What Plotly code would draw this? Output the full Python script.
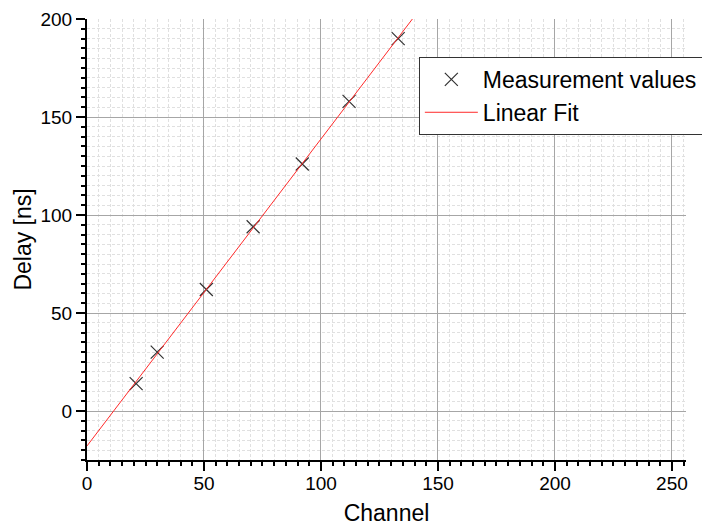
import numpy as np
import plotly.graph_objects as go

# Measured channel numbers and corresponding delays
channel = [21, 30, 51, 71, 92, 112, 133]
delay_ns = [14, 30, 62, 94, 126, 158, 190]

x_ticks = [0, 50, 100, 150, 200, 250]
y_ticks = [0, 50, 100, 150, 200]

# Least-squares linear fit through the measurements
slope, intercept = np.polyfit(channel, delay_ns, 1)
fit_x = np.array([0.0, 256.0])
fit_y = slope * fit_x + intercept

FONT = "Liberation Sans, Arial, sans-serif"

fig = go.Figure()
fig.add_trace(go.Scatter(
    x=channel, y=delay_ns, mode="markers", name="Measurement values",
    marker=dict(symbol="x-thin-open", size=13, color="#333333",
                line=dict(width=1.2, color="#333333")),
))
fig.add_trace(go.Scatter(
    x=fit_x, y=fit_y, mode="lines", name="Linear Fit",
    line=dict(color="#ff2a2a", width=1),
))

axis_common = dict(
    showline=True, linecolor="black", linewidth=2,
    ticks="outside", ticklen=9, tickwidth=2, tickcolor="black",
    showgrid=True, gridcolor="#a6a6a6", gridwidth=1,
    zeroline=False, mirror=False,
    tickfont=dict(family=FONT, size=19, color="black"),
    title_font=dict(family=FONT, size=23, color="black"),
)

minor_common = dict(
    dtick=5, tick0=0, ticklen=4, tickwidth=2, tickcolor="black",
    showgrid=True, gridcolor="#e0e0e0", griddash="3px,2px", gridwidth=1,
)

fig.update_xaxes(
    range=[0, 256], tickvals=x_ticks, title_text="Channel", title_standoff=12,
    ticklabelstandoff=-4, minor=minor_common, **axis_common,
)
fig.update_yaxes(
    range=[-25, 200], tickvals=y_ticks, title_text="Delay [ns]", title_standoff=2,
    minor=minor_common, **axis_common,
)

fig.update_layout(
    width=702, height=529,
    margin=dict(l=87, r=16, t=19, b=69, autoexpand=False),
    plot_bgcolor="white", paper_bgcolor="white",
    font=dict(family=FONT, color="black"),
    legend=dict(
        x=0.554, y=0.914, xanchor="left", yanchor="top",
        bgcolor="white", bordercolor="#333333", borderwidth=1,
        font=dict(family=FONT, size=23, color="black"),
        itemwidth=53,
    ),
)

fig.write_html("out.html")
